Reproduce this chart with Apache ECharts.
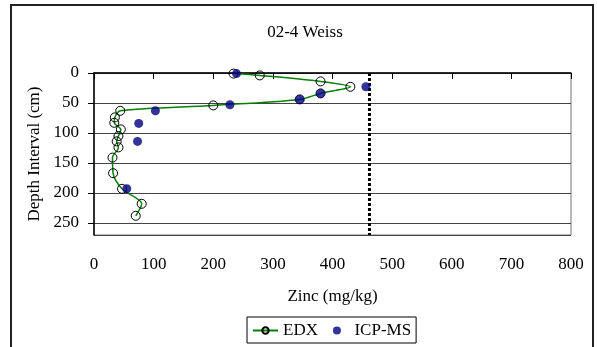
<!DOCTYPE html>
<html>
<head>
<meta charset="utf-8">
<script src="https://cdn.jsdelivr.net/npm/echarts@6/dist/echarts.min.js"></script>
<style>
  html, body { margin: 0; padding: 0; background: #fff; }
  #chart { width: 597px; height: 347px; }
</style>
</head>
<body>
<div id="chart"></div>
<script>
// Zinc profile with depth: EDX (connected) and ICP-MS (points)
const edxZinc   = [234, 278, 380, 430, 380, 345, 200, 44, 35, 34, 45, 41, 38, 41, 31, 32, 47, 80, 70];
const edxDepth  = [1, 4, 14, 23, 34, 44, 54, 63, 74, 83, 94, 105, 114, 124, 141, 167, 193, 218, 238];
const icpZinc   = [239, 456, 380, 345, 228, 103, 75, 73, 55];
const icpDepth  = [1, 23, 34, 44, 53, 63, 84, 114, 193];
const referenceZinc = 462;
const depthTicks = [0, 50, 100, 150, 200, 250];
const zincTicks = [0, 100, 200, 300, 400, 500, 600, 700, 800];

const serif = 'Liberation Serif';
const fs = 17;
const pairs = (xs, ys) => xs.map((x, i) => [x, ys[i]]);

const chart = echarts.init(document.getElementById('chart'), null, { renderer: 'canvas' });
chart.setOption({
  animation: false,
  backgroundColor: '#fff',
  textStyle: { fontFamily: serif, color: '#000' },
  title: {
    text: '02-4 Weiss',
    left: 300, top: 19, textAlign: 'center',
    textStyle: { fontFamily: serif, fontSize: fs, fontWeight: 'normal', color: '#000' }
  },
  graphic: [{
    type: 'rect',
    shape: { x: 11, y: 5, width: 582, height: 360 },
    style: { fill: 'none', stroke: '#222', lineWidth: 2 },
    silent: true
  }],
  grid: {
    left: 94, right: 26, top: 73, bottom: 112,
    show: true, borderColor: '#777', borderWidth: 1, backgroundColor: 'transparent'
  },
  legend: {
    data: ['EDX', 'ICP-MS'],
    left: 247, top: 317,
    padding: [5, 5, 4, 5],
    itemGap: 15,
    itemWidth: 25, itemHeight: 8,
    borderColor: '#000', borderWidth: 1,
    textStyle: { fontFamily: serif, fontSize: fs, color: '#000' }
  },
  xAxis: {
    type: 'value', min: zincTicks[0], max: zincTicks[zincTicks.length - 1], interval: 100,
    name: 'Zinc (mg/kg)', nameLocation: 'middle', nameGap: 53,
    nameTextStyle: { fontFamily: serif, fontSize: fs, color: '#000' },
    axisLine: { show: true, lineStyle: { color: '#000', width: 1.5 } },
    axisTick: { show: true, inside: false, length: 6, lineStyle: { color: '#000' } },
    axisLabel: { margin: 21, fontFamily: serif, fontSize: fs, color: '#000' },
    splitLine: { show: false }
  },
  yAxis: {
    type: 'value', inverse: true, min: depthTicks[0], max: 270, interval: 50,
    name: 'Depth Interval (cm)', nameLocation: 'middle', nameGap: 47, nameRotate: 90,
    nameTextStyle: { fontFamily: serif, fontSize: fs, color: '#000' },
    axisLine: { show: true, lineStyle: { color: '#000', width: 1.5 } },
    axisTick: { show: true, inside: false, length: 6, lineStyle: { color: '#000' } },
    axisLabel: {
      margin: 15, fontFamily: serif, fontSize: fs, color: '#000', showMaxLabel: false,
      formatter: v => (depthTicks.includes(v) ? String(v) : '')
    },
    splitLine: { show: true, lineStyle: { color: '#444', width: 1 } }
  },
  series: [
    {
      name: 'EDX', type: 'line', smooth: 0.3,
      data: pairs(edxZinc, edxDepth),
      symbol: 'circle', symbolSize: 9,
      lineStyle: { color: '#008000', width: 1.5 },
      itemStyle: { color: 'rgba(255,255,255,0)', borderColor: '#000', borderWidth: 1 },
      z: 3
    },
    {
      name: 'ICP-MS', type: 'scatter',
      data: pairs(icpZinc, icpDepth),
      symbol: 'circle', symbolSize: 9,
      itemStyle: { color: '#000080' },
      z: 4
    },
    {
      name: 'limit', type: 'line',
      data: [[referenceZinc, 0], [referenceZinc, 270]],
      symbol: 'none',
      lineStyle: { color: '#000', width: 3, type: [3, 2] },
      z: 2
    }
  ]
});
</script>
</body>
</html>
